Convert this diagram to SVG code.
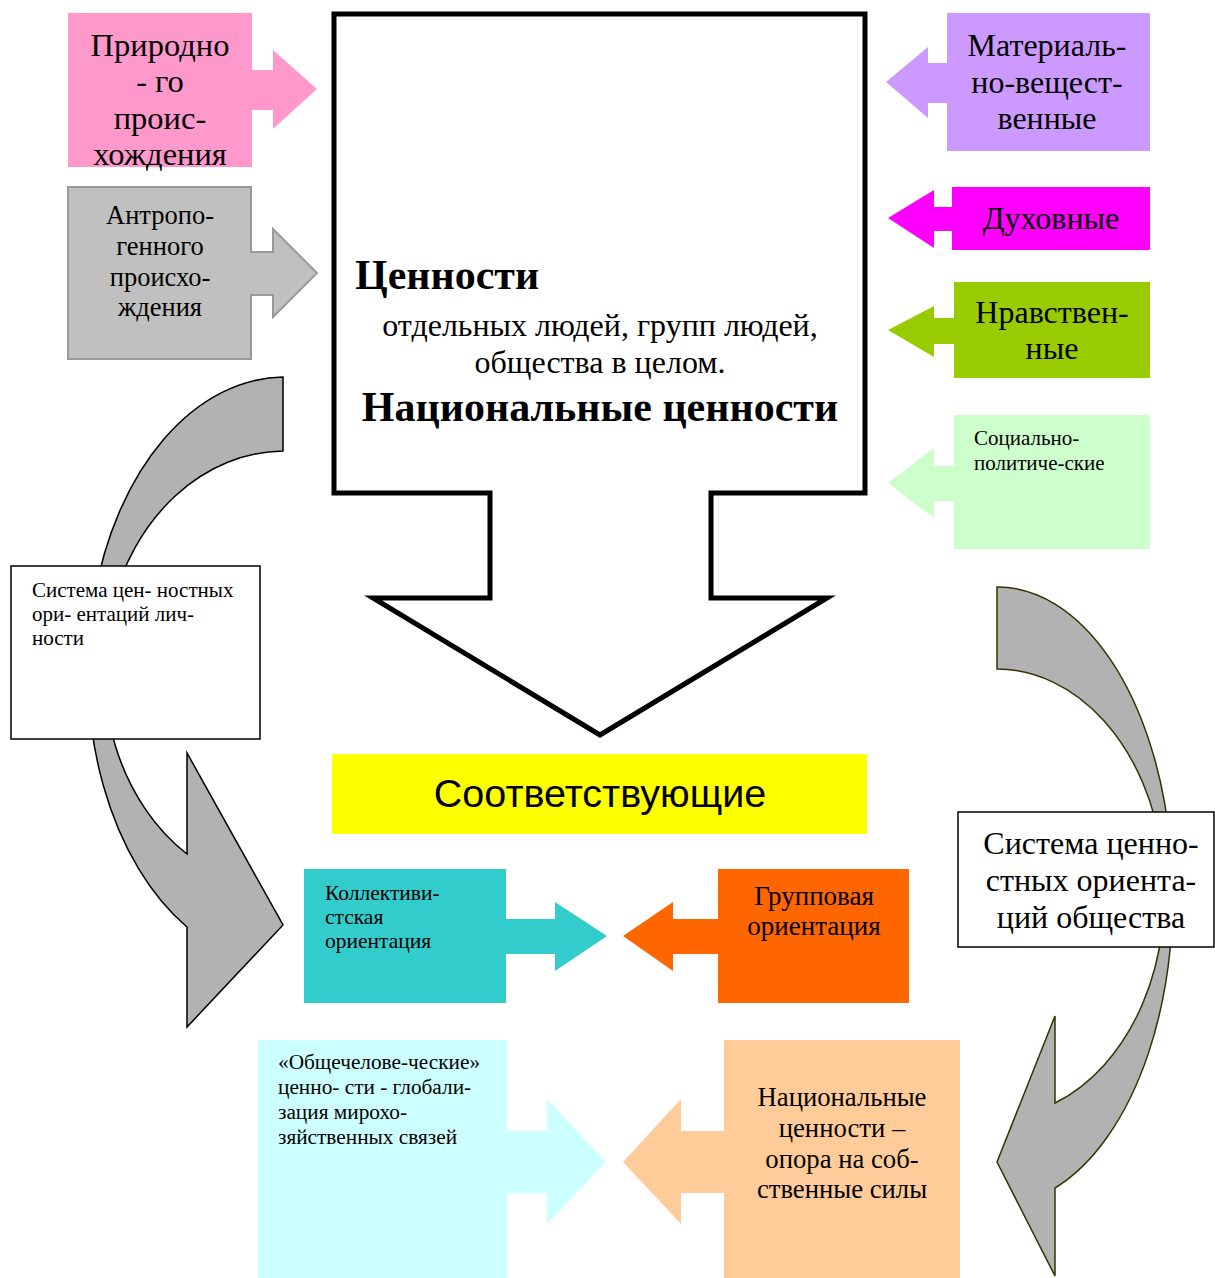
<svg xmlns="http://www.w3.org/2000/svg" width="1215" height="1278" viewBox="0 0 1215 1278">
<style>
.t{font-family:"Liberation Serif","Times New Roman",serif;fill:#000}
.c{text-anchor:middle}
.b{font-weight:bold}
</style>
<rect width="1215" height="1278" fill="#fff"/>
<g id="connectors">
<path id="curve-left" d="M283 377 A197 294.5 0 0 0 187 927 L187 1027 L283 925 L187 753 L187 854 A181 219 0 0 1 283 451 Z" fill="#b2b2b2" stroke="#000" stroke-width="1.5"/>
<path id="curve-right" d="M997 587 A175 309 0 0 1 1055 1188 L1055 1276 L997 1162 L1055 1016 L1055 1103 A168 224 0 0 0 997 669 Z" fill="#b2b2b2" stroke="#333300" stroke-width="1.5"/>
</g>
<g id="main">
<path d="M334 14 H865 V493 H711 V598 H827 L600 735 L373 598 H490 V493 H334 Z" fill="#fff" stroke="#000" stroke-width="5"/>
<text class="t b" x="355" y="289" font-size="42">Ценности</text>
<text class="t c" x="600" y="336" font-size="32">отдельных людей, групп людей,</text>
<text class="t c" x="600" y="373" font-size="32">общества в целом.</text>
<text class="t b c" x="600" y="421" font-size="42">Национальные ценности</text>
</g>
<g id="prirodnogo">
<path d="M68 13 H252 V70 H273 V50 L317 89 L273 129 V110 H252 V167 H68 Z" fill="#ff99cc"/>
<text class="t c" x="160" y="56" font-size="32.5">Природно</text>
<text class="t c" x="160" y="92" font-size="32.5">- го</text>
<text class="t c" x="160" y="129" font-size="32.5">проис-</text>
<text class="t c" x="160" y="165" font-size="32.5">хождения</text>
</g>
<g id="antropogennogo">
<path d="M68 187 H251 V252 H273 V229 L317 273 L273 317 V295 H251 V359 H68 Z" fill="#c0c0c0" stroke="#999" stroke-width="2"/>
<text class="t c" x="160" y="224" font-size="26.5">Антропо-</text>
<text class="t c" x="160" y="255" font-size="26.5">генного</text>
<text class="t c" x="160" y="286" font-size="26.5">происхо-</text>
<text class="t c" x="160" y="316" font-size="26.5">ждения</text>
</g>
<g id="materialnye">
<path d="M947 13 H1150 V151 H947 V103 H928 V118 L886 82 L928 47 V63 H947 Z" fill="#cc99ff"/>
<text class="t c" x="1047" y="56" font-size="32">Материаль-</text>
<text class="t c" x="1047" y="93" font-size="32">но-вещест-</text>
<text class="t c" x="1047" y="129" font-size="32">венные</text>
</g>
<g id="duhovnye">
<path d="M952 187 H1150 V250 H952 V231 H934 V248 L888 218 L934 190 V207 H952 Z" fill="#ff00ff"/>
<text class="t c" x="1051" y="229" font-size="32">Духовные</text>
</g>
<g id="nravstvennye">
<path d="M954 282 H1150 V378 H954 V344 H934 V357 L888 330 L934 306 V318 H954 Z" fill="#99cc00"/>
<text class="t c" x="1052" y="323" font-size="32">Нравствен-</text>
<text class="t c" x="1052" y="359" font-size="32">ные</text>
</g>
<g id="socialno">
<path d="M954 415 H1150 V549 H954 V501 H934 V518 L888 483 L934 448 V466 H954 Z" fill="#ccffcc"/>
<text class="t" x="974" y="445" font-size="21">Социально-</text>
<text class="t" x="974" y="470" font-size="21">политиче-ские</text>
</g>
<g id="lichnosti">
<rect x="11" y="566" width="249" height="173" fill="#fff" stroke="#000" stroke-width="1.5"/>
<text class="t" x="32" y="597" font-size="21">Система цен- ностных</text>
<text class="t" x="32" y="621" font-size="21">ори- ентаций лич-</text>
<text class="t" x="32" y="645" font-size="21">ности</text>
</g>
<g id="obshchestva">
<rect x="958" y="812" width="256" height="135" fill="#fff" stroke="#000" stroke-width="1.5"/>
<text class="t c" x="1091" y="854" font-size="32">Система ценно-</text>
<text class="t c" x="1091" y="891" font-size="32">стных ориента-</text>
<text class="t c" x="1091" y="928" font-size="32">ций общества</text>
</g>
<g id="sootvetstvuyushchie">
<rect x="332" y="754" width="535" height="80" fill="#ffff00"/>
<text x="600" y="807" font-size="39.5" text-anchor="middle" font-family="Liberation Sans, Arial, sans-serif">Соответствующие</text>
</g>
<g id="kollektivistskaya">
<path d="M304 869 H506 V919 H555 V902 L607 936 L555 971 V954 H506 V1003 H304 Z" fill="#33cccc"/>
<text class="t" x="325" y="900" font-size="21.5">Коллективи-</text>
<text class="t" x="325" y="924" font-size="21.5">стская</text>
<text class="t" x="325" y="948" font-size="21.5">ориентация</text>
</g>
<g id="gruppovaya">
<path d="M909 869 H718 V919 H673 V902 L623 936 L673 971 V954 H718 V1003 H909 Z" fill="#ff6600"/>
<text class="t c" x="814" y="905" font-size="27">Групповая</text>
<text class="t c" x="814" y="935" font-size="27">ориентация</text>
</g>
<g id="obshchechelovecheskie">
<path d="M258 1040 H507 V1131 H547 V1099 L606 1162 L547 1224 V1193 H507 V1278 H258 Z" fill="#ccffff"/>
<text class="t" x="278" y="1069" font-size="21.3">«Общечелове-ческие»</text>
<text class="t" x="278" y="1094" font-size="21.3">ценно- сти - глобали-</text>
<text class="t" x="278" y="1119" font-size="21.3">зация мирохо-</text>
<text class="t" x="278" y="1144" font-size="21.3">зяйственных связей</text>
</g>
<g id="nacionalnye">
<path d="M960 1040 H724 V1131 H681 V1099 L623 1162 L681 1224 V1193 H724 V1278 H960 Z" fill="#ffcc99"/>
<text class="t c" x="842" y="1106" font-size="26.7">Национальные</text>
<text class="t c" x="842" y="1137" font-size="26.7">ценности –</text>
<text class="t c" x="842" y="1168" font-size="26.7">опора на соб-</text>
<text class="t c" x="842" y="1198" font-size="26.7">ственные силы</text>
</g>
</svg>
